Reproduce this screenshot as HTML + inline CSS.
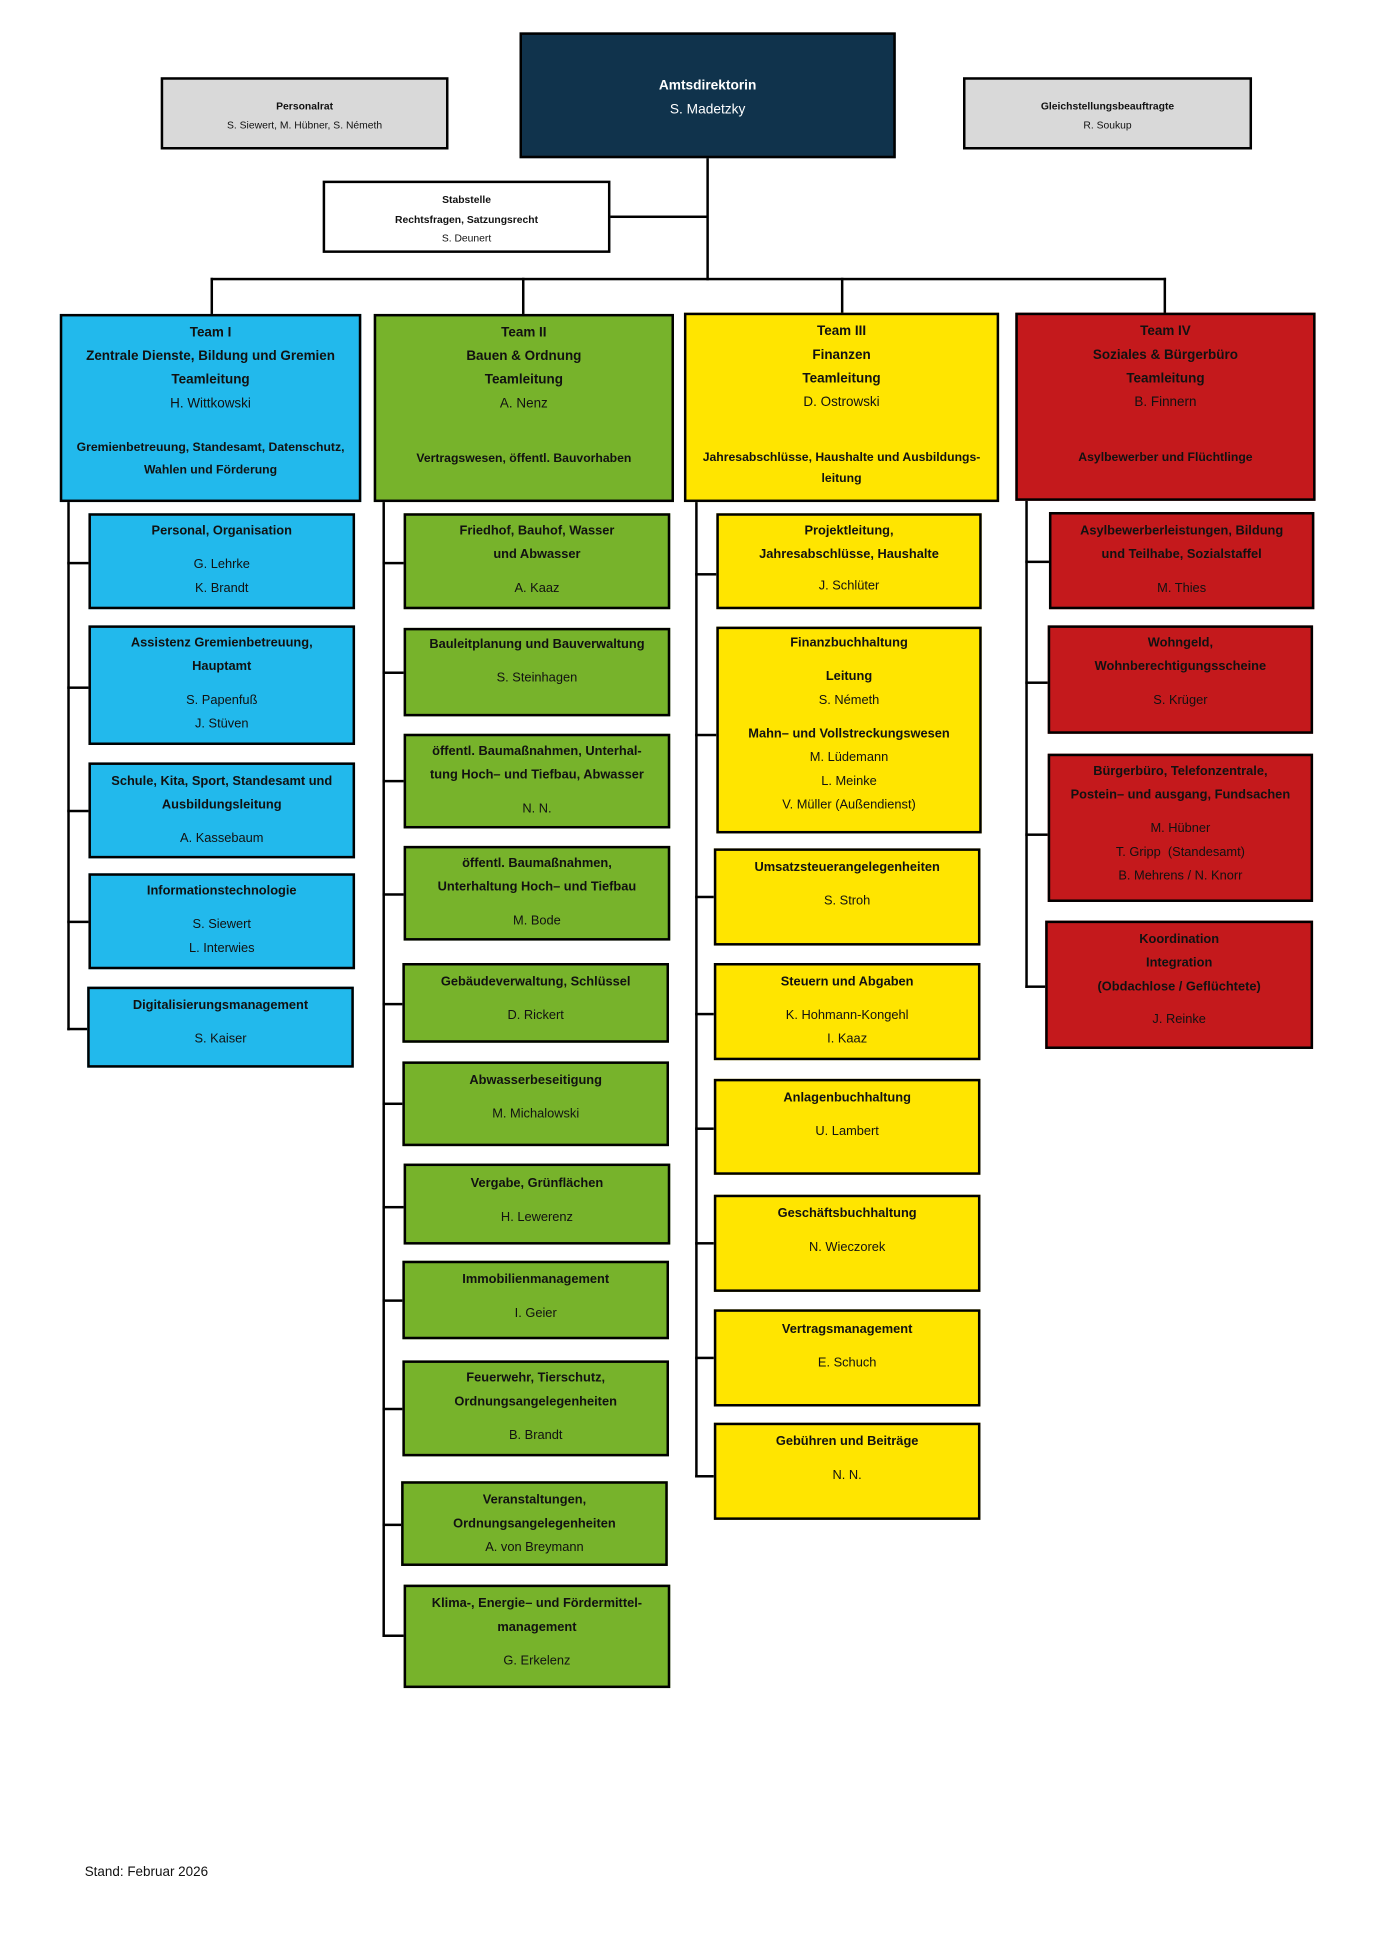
<!DOCTYPE html>
<html><head><meta charset="utf-8"><style>
html,body{margin:0;padding:0;background:#fff;}
body{width:1380px;height:1951px;overflow:hidden;position:relative;}
#w{position:absolute;left:0;top:0;width:1100px;height:1560px;transform:scale(1.2458);transform-origin:0 0;font-family:"Liberation Sans",sans-serif;color:#111;}
.b{position:absolute;box-sizing:border-box;border:2.4px solid #000;text-align:center;font-size:10.3px;line-height:19px;}
.t{font-weight:bold;}
.s{height:8px;}
.bl{background:#22B9EC}.gr{background:#77B32B}.ye{background:#FFE500}.rd{background:#C4191C}
.l{position:absolute;background:#000;}
.ab{position:absolute;left:0;right:0;}
</style></head><body><div id="w">
<div class="l" style="left:567px;top:127px;width:2.4px;height:98px"></div>
<div class="l" style="left:490px;top:173px;width:78px;height:2.4px"></div>
<div class="l" style="left:169px;top:223px;width:767px;height:2.4px"></div>
<div class="l" style="left:169px;top:223px;width:2.4px;height:30px"></div>
<div class="l" style="left:419px;top:223px;width:2.4px;height:30px"></div>
<div class="l" style="left:675px;top:223px;width:2.4px;height:29px"></div>
<div class="l" style="left:934px;top:223px;width:2.4px;height:29px"></div>
<div class="l" style="left:54px;top:403px;width:2px;height:424px"></div>
<div class="l" style="left:307px;top:403px;width:2px;height:911px"></div>
<div class="l" style="left:558px;top:403px;width:2px;height:783px"></div>
<div class="l" style="left:823px;top:402px;width:2px;height:391px"></div>
<div class="l" style="left:54px;top:451px;width:17px;height:2.4px"></div>
<div class="l" style="left:54px;top:551px;width:17px;height:2.4px"></div>
<div class="l" style="left:54px;top:650px;width:17px;height:2.4px"></div>
<div class="l" style="left:54px;top:739px;width:17px;height:2.4px"></div>
<div class="l" style="left:54px;top:825px;width:16px;height:2.4px"></div>
<div class="l" style="left:307px;top:451px;width:17px;height:2.4px"></div>
<div class="l" style="left:307px;top:539px;width:17px;height:2.4px"></div>
<div class="l" style="left:307px;top:626px;width:17px;height:2.4px"></div>
<div class="l" style="left:307px;top:717px;width:17px;height:2.4px"></div>
<div class="l" style="left:307px;top:805px;width:16px;height:2.4px"></div>
<div class="l" style="left:307px;top:885px;width:16px;height:2.4px"></div>
<div class="l" style="left:307px;top:968px;width:17px;height:2.4px"></div>
<div class="l" style="left:307px;top:1043px;width:16px;height:2.4px"></div>
<div class="l" style="left:307px;top:1130px;width:16px;height:2.4px"></div>
<div class="l" style="left:307px;top:1223px;width:15px;height:2.4px"></div>
<div class="l" style="left:307px;top:1312px;width:17px;height:2.4px"></div>
<div class="l" style="left:558px;top:460px;width:17px;height:2.4px"></div>
<div class="l" style="left:558px;top:589px;width:17px;height:2.4px"></div>
<div class="l" style="left:558px;top:719px;width:15px;height:2.4px"></div>
<div class="l" style="left:558px;top:813px;width:15px;height:2.4px"></div>
<div class="l" style="left:558px;top:905px;width:15px;height:2.4px"></div>
<div class="l" style="left:558px;top:997px;width:15px;height:2.4px"></div>
<div class="l" style="left:558px;top:1089px;width:15px;height:2.4px"></div>
<div class="l" style="left:558px;top:1184px;width:15px;height:2.4px"></div>
<div class="l" style="left:823px;top:450px;width:19px;height:2.4px"></div>
<div class="l" style="left:823px;top:547px;width:18px;height:2.4px"></div>
<div class="l" style="left:823px;top:669px;width:18px;height:2.4px"></div>
<div class="l" style="left:823px;top:791px;width:16px;height:2.4px"></div>

<div class="b" style="left:417px;top:26px;width:302px;height:101px;background:#10334C;color:#fff;font-size:11px;padding-top:32px"><div class="t">Amtsdirektorin</div><div>S. Madetzky</div></div>
<div class="b" style="left:129px;top:62px;width:231px;height:58px;background:#D9D9D9;font-size:8.3px;line-height:15px;padding-top:14px"><div class="t">Personalrat</div><div>S. Siewert, M. Hübner, S. Németh</div></div>
<div class="b" style="left:773px;top:62px;width:232px;height:58px;background:#D9D9D9;font-size:8.3px;line-height:15px;padding-top:14px"><div class="t">Gleichstellungsbeauftragte</div><div>R. Soukup</div></div>
<div class="b" style="left:259px;top:145px;width:231px;height:58px;background:#fff;font-size:8.3px;line-height:15.5px;padding-top:6px"><div class="t">Stabstelle</div><div class="t">Rechtsfragen, Satzungsrecht</div><div>S. Deunert</div></div>

<div class="b bl" style="left:48px;top:252px;width:242px;height:151px;padding-top:4px;font-size:10.8px"><div class="t">Team I</div><div class="t">Zentrale Dienste, Bildung und Gremien</div><div class="t">Teamleitung</div><div>H. Wittkowski</div><div class="ab t" style="top:97px;font-size:9.8px;line-height:18px">Gremienbetreuung, Standesamt, Datenschutz,<br>Wahlen und Förderung</div></div>
<div class="b gr" style="left:300px;top:252px;width:241px;height:151px;padding-top:4px;font-size:10.8px"><div class="t">Team II</div><div class="t">Bauen &amp; Ordnung</div><div class="t">Teamleitung</div><div>A. Nenz</div><div class="ab t" style="top:105px;font-size:9.8px">Vertragswesen, öffentl. Bauvorhaben</div></div>
<div class="b ye" style="left:549px;top:251px;width:253px;height:152px;padding-top:4px;font-size:10.8px"><div class="t">Team III</div><div class="t">Finanzen</div><div class="t">Teamleitung</div><div>D. Ostrowski</div><div class="ab t" style="top:106px;font-size:9.8px;line-height:17px">Jahresabschlüsse, Haushalte und Ausbildungs-<br>leitung</div></div>
<div class="b rd" style="left:815px;top:251px;width:241px;height:151px;padding-top:4px;font-size:10.8px"><div class="t">Team IV</div><div class="t">Soziales &amp; Bürgerbüro</div><div class="t">Teamleitung</div><div>B. Finnern</div><div class="ab t" style="top:105px;font-size:9.8px">Asylbewerber und Flüchtlinge</div></div>

<div class="b bl" style="left:71px;top:412px;width:214px;height:77px;padding-top:3px"><div class="t">Personal, Organisation</div><div class="s"></div><div>G. Lehrke</div><div>K. Brandt</div></div>
<div class="b bl" style="left:71px;top:502px;width:214px;height:96px;padding-top:3px"><div class="t">Assistenz Gremienbetreuung,</div><div class="t">Hauptamt</div><div class="s"></div><div>S. Papenfuß</div><div>J. Stüven</div></div>
<div class="b bl" style="left:71px;top:612px;width:214px;height:77px;padding-top:4px"><div class="t">Schule, Kita, Sport, Standesamt und</div><div class="t">Ausbildungsleitung</div><div class="s"></div><div>A. Kassebaum</div></div>
<div class="b bl" style="left:71px;top:701px;width:214px;height:77px;padding-top:3px"><div class="t">Informationstechnologie</div><div class="s"></div><div>S. Siewert</div><div>L. Interwies</div></div>
<div class="b bl" style="left:70px;top:792px;width:214px;height:65px;padding-top:4px"><div class="t">Digitalisierungsmanagement</div><div class="s"></div><div>S. Kaiser</div></div>

<div class="b gr" style="left:324px;top:412px;width:214px;height:77px;padding-top:3px"><div class="t">Friedhof, Bauhof, Wasser</div><div class="t">und Abwasser</div><div class="s"></div><div>A. Kaaz</div></div>
<div class="b gr" style="left:324px;top:504px;width:214px;height:71px;padding-top:2px"><div class="t">Bauleitplanung und Bauverwaltung</div><div class="s"></div><div>S. Steinhagen</div></div>
<div class="b gr" style="left:324px;top:589px;width:214px;height:76px;padding-top:3px"><div class="t">öffentl. Baumaßnahmen, Unterhal-</div><div class="t">tung Hoch– und Tiefbau, Abwasser</div><div class="s"></div><div>N. N.</div></div>
<div class="b gr" style="left:324px;top:679px;width:214px;height:76px;padding-top:3px"><div class="t">öffentl. Baumaßnahmen,</div><div class="t">Unterhaltung Hoch– und Tiefbau</div><div class="s"></div><div>M. Bode</div></div>
<div class="b gr" style="left:323px;top:773px;width:214px;height:64px;padding-top:4px"><div class="t">Gebäudeverwaltung, Schlüssel</div><div class="s"></div><div>D. Rickert</div></div>
<div class="b gr" style="left:323px;top:852px;width:214px;height:68px;padding-top:4px"><div class="t">Abwasserbeseitigung</div><div class="s"></div><div>M. Michalowski</div></div>
<div class="b gr" style="left:324px;top:934px;width:214px;height:65px;padding-top:5px"><div class="t">Vergabe, Grünflächen</div><div class="s"></div><div>H. Lewerenz</div></div>
<div class="b gr" style="left:323px;top:1012px;width:214px;height:63px;padding-top:4px"><div class="t">Immobilienmanagement</div><div class="s"></div><div>I. Geier</div></div>
<div class="b gr" style="left:323px;top:1092px;width:214px;height:77px;padding-top:3px"><div class="t">Feuerwehr, Tierschutz,</div><div class="t">Ordnungsangelegenheiten</div><div class="s"></div><div>B. Brandt</div></div>
<div class="b gr" style="left:322px;top:1189px;width:214px;height:68px;padding-top:4px"><div class="t">Veranstaltungen,</div><div class="t">Ordnungsangelegenheiten</div><div>A. von Breymann</div></div>
<div class="b gr" style="left:324px;top:1272px;width:214px;height:83px;padding-top:4px"><div class="t">Klima-, Energie– und Fördermittel-</div><div class="t">management</div><div class="s"></div><div>G. Erkelenz</div></div>

<div class="b ye" style="left:575px;top:412px;width:213px;height:77px;padding-top:3px"><div class="t">Projektleitung,</div><div class="t">Jahresabschlüsse, Haushalte</div><div style="height:6px"></div><div>J. Schlüter</div></div>
<div class="b ye" style="left:575px;top:503px;width:213px;height:166px;padding-top:2px"><div class="t">Finanzbuchhaltung</div><div class="s"></div><div class="t">Leitung</div><div>S. Németh</div><div class="s"></div><div class="t">Mahn– und Vollstreckungswesen</div><div>M. Lüdemann</div><div>L. Meinke</div><div>V. Müller (Außendienst)</div></div>
<div class="b ye" style="left:573px;top:681px;width:214px;height:78px;padding-top:4px"><div class="t">Umsatzsteuerangelegenheiten</div><div class="s"></div><div>S. Stroh</div></div>
<div class="b ye" style="left:573px;top:773px;width:214px;height:78px;padding-top:4px"><div class="t">Steuern und Abgaben</div><div class="s"></div><div>K. Hohmann-Kongehl</div><div>I. Kaaz</div></div>
<div class="b ye" style="left:573px;top:866px;width:214px;height:77px;padding-top:4px"><div class="t">Anlagenbuchhaltung</div><div class="s"></div><div>U. Lambert</div></div>
<div class="b ye" style="left:573px;top:959px;width:214px;height:78px;padding-top:4px"><div class="t">Geschäftsbuchhaltung</div><div class="s"></div><div>N. Wieczorek</div></div>
<div class="b ye" style="left:573px;top:1051px;width:214px;height:78px;padding-top:5px"><div class="t">Vertragsmanagement</div><div class="s"></div><div>E. Schuch</div></div>
<div class="b ye" style="left:573px;top:1142px;width:214px;height:78px;padding-top:4px"><div class="t">Gebühren und Beiträge</div><div class="s"></div><div>N. N.</div></div>

<div class="b rd" style="left:842px;top:411px;width:213px;height:78px;padding-top:4px"><div class="t">Asylbewerberleistungen, Bildung</div><div class="t">und Teilhabe, Sozialstaffel</div><div class="s"></div><div>M. Thies</div></div>
<div class="b rd" style="left:841px;top:502px;width:213px;height:87px;padding-top:3px"><div class="t">Wohngeld,</div><div class="t">Wohnberechtigungsscheine</div><div class="s"></div><div>S. Krüger</div></div>
<div class="b rd" style="left:841px;top:605px;width:213px;height:119px;padding-top:3px"><div class="t">Bürgerbüro, Telefonzentrale,</div><div class="t">Postein– und ausgang, Fundsachen</div><div class="s"></div><div>M. Hübner</div><div>T. Gripp&nbsp; (Standesamt)</div><div>B. Mehrens / N. Knorr</div></div>
<div class="b rd" style="left:839px;top:739px;width:215px;height:103px;padding-top:4px"><div class="t">Koordination</div><div class="t">Integration</div><div class="t">(Obdachlose / Geflüchtete)</div><div style="height:7px"></div><div>J. Reinke</div></div>

<div style="position:absolute;left:68px;top:1497px;font-size:10.8px">Stand: Februar 2026</div>
</div></body></html>
